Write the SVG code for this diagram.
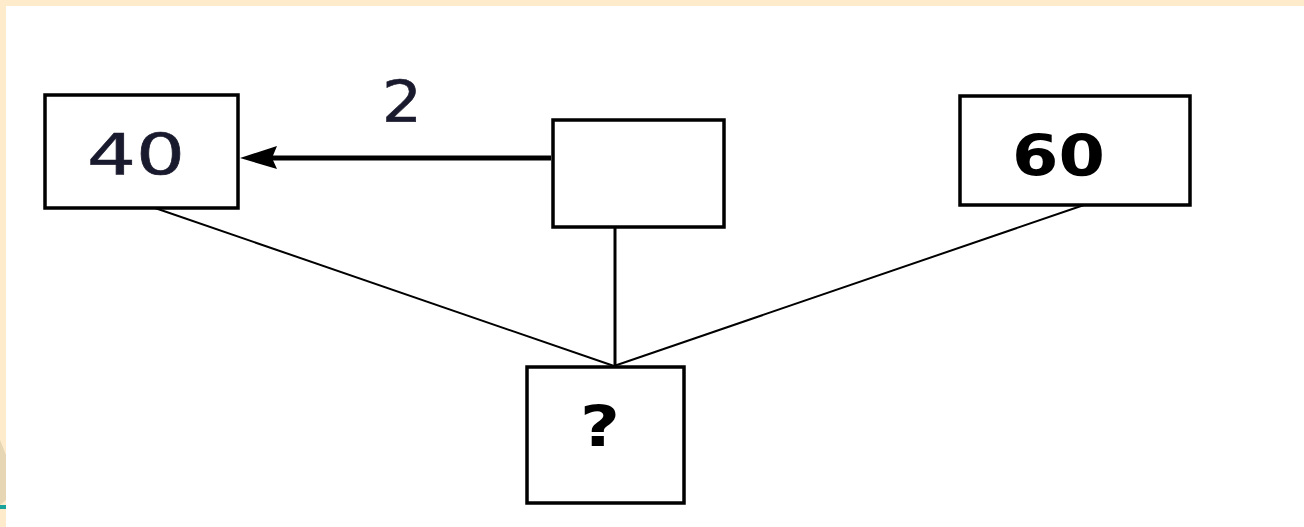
<svg xmlns="http://www.w3.org/2000/svg" width="1304" height="527" viewBox="0 0 1304 527">
<style>
.box{fill:#fff;stroke:#000;stroke-width:3.5}
.thin{stroke:#000;stroke-width:2;fill:none}
.lbl{font-family:"DejaVu Sans",Verdana,sans-serif;font-size:57px;fill:#1a1a2e;stroke:#1a1a2e;stroke-width:0.6}
.bold{font-weight:bold;fill:#000;stroke:none}
</style>
<rect x="0" y="0" width="1304" height="527" fill="#fdebcb"/>
<rect x="6" y="6" width="1298" height="521" fill="#fff"/>
<polygon points="0,440 6,455 6,500 0,505" fill="#e6d6b4"/>
<rect x="0" y="505" width="6" height="4" fill="#1aa39a"/>
<g id="connectors">
<line class="thin" x1="155" y1="208" x2="614" y2="366"/>
<line class="thin" x1="1084" y1="205" x2="614" y2="366"/>
<line x1="615" y1="228" x2="615" y2="366" stroke="#000" stroke-width="3"/>
<line x1="551" y1="158" x2="265" y2="158" stroke="#000" stroke-width="5"/>
<polygon points="240,158 277,146 272,158 277,169" fill="#000"/>
<text class="lbl" x="402" y="122" text-anchor="middle" textLength="40" lengthAdjust="spacingAndGlyphs">2</text>
</g>
<g id="node40">
<rect class="box" x="45" y="95" width="193" height="113"/>
<text class="lbl" x="87" y="175" textLength="98" lengthAdjust="spacingAndGlyphs">40</text>
</g>
<g id="nodeMid">
<rect class="box" x="553" y="120" width="171" height="107"/>
</g>
<g id="node60">
<rect class="box" x="960" y="96" width="230" height="109"/>
<text class="lbl bold" x="1012" y="176" textLength="93" lengthAdjust="spacingAndGlyphs">60</text>
</g>
<g id="nodeQ">
<rect class="box" x="527" y="367" width="157" height="136"/>
<text class="lbl bold" x="580" y="447" textLength="40" lengthAdjust="spacingAndGlyphs">?</text>
</g>
</svg>
